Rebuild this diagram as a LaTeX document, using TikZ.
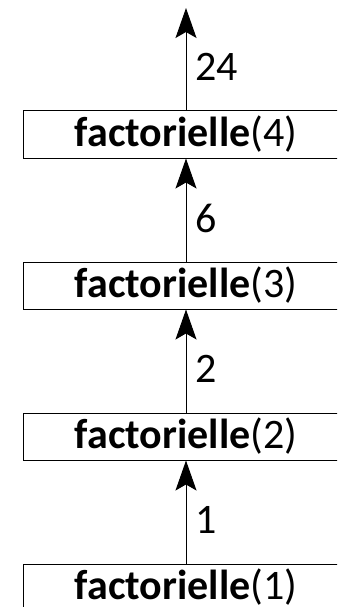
\documentclass[tikz,border=0pt]{standalone}
\usepackage{fontspec}
\setmainfont{Carlito}
\usetikzlibrary{arrows.meta}
\begin{document}
\begin{tikzpicture}[x=1pt,y=-1pt,
  callbox/.style={draw=black,line width=1pt,minimum width=326pt,minimum height=47pt,inner sep=0pt,font=\fontsize{42}{50}\selectfont},
  conn/.style={line width=1pt,-{Stealth[length=30pt,width=21pt,inset=6pt]}},
  lbl/.style={anchor=west,inner sep=0pt,xshift=9pt,font=\fontsize{42}{50}\selectfont}]
\useasboundingbox (0,0) rectangle (337,607);
\clip (0,0) rectangle (337,607);
\node[callbox] (b4) at (186,134.5) {\textbf{factorielle}(4)};
\node[callbox] (b3) at (186,285.5) {\textbf{factorielle}(3)};
\node[callbox] (b2) at (186,436.5) {\textbf{factorielle}(2)};
\node[callbox] (b1) at (186,587.5) {\textbf{factorielle}(1)};
\coordinate (top) at (186,8);
\draw[conn] (b4.north) -- node[lbl,pos=0.43] (l24) {24} (top);
\draw[conn] (b3.north) -- node[lbl,pos=0.42] (l6) {6} (b4.south);
\draw[conn] (b2.north) -- node[lbl,pos=0.42] (l2) {2} (b3.south);
\draw[conn] (b1.north) -- node[lbl,pos=0.42] (l1) {1} (b2.south);
\end{tikzpicture}
\end{document}
